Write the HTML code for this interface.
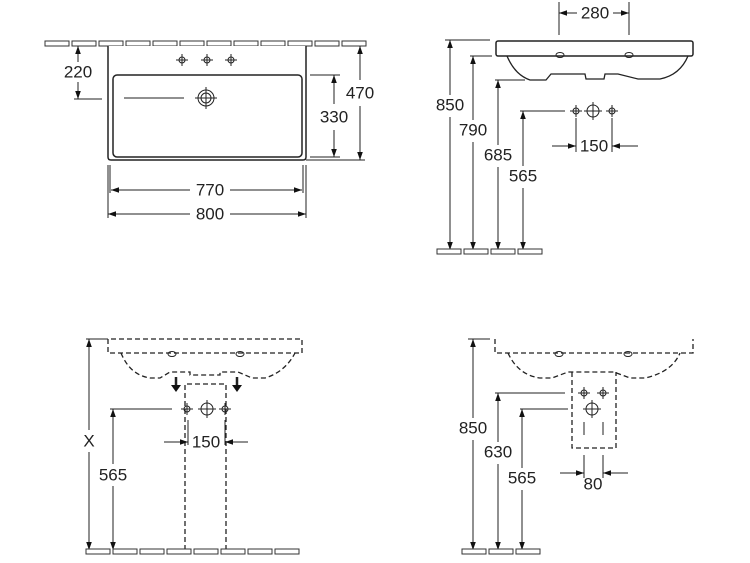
<!DOCTYPE html>
<html><head><style>html,body{margin:0;padding:0;background:#fff}svg{display:block}text{font-family:"Liberation Sans",sans-serif;font-size:17px;fill:#222;text-anchor:middle;dominant-baseline:central}</style></head><body>
<svg width="750" height="563" viewBox="0 0 750 563" xmlns="http://www.w3.org/2000/svg">
<defs>
<marker id="a" viewBox="0 0 10 10" refX="10" refY="5" markerWidth="10" markerHeight="8" orient="auto" markerUnits="userSpaceOnUse"><path d="M0,1.5 L10,5 L0,8.5z" fill="#111"/></marker>
<g id="tile"><rect x="0" y="0" width="24" height="5" fill="#fff" stroke="#333" stroke-width="1"/></g>
</defs>
<g fill="none" stroke="#222" stroke-width="1">
<!-- VIEW 1 tiles -->
<g id="w1">
<use href="#tile" x="45" y="41"/><use href="#tile" x="72" y="41"/><use href="#tile" x="99" y="41"/><use href="#tile" x="126" y="41"/><use href="#tile" x="153" y="41"/><use href="#tile" x="180" y="41"/><use href="#tile" x="207" y="41"/><use href="#tile" x="234" y="41"/><use href="#tile" x="261" y="41"/><use href="#tile" x="288" y="41"/><use href="#tile" x="315" y="41"/><use href="#tile" x="342" y="41"/>
</g>
<path d="M108,46 V157 Q108,160 111,160 H303 Q306,160 306,157 V46" stroke-width="1.5" fill="#fff"/>
<rect x="113" y="75" width="189" height="82" rx="4" stroke-width="1.5"/>
<g id="tap"><circle cx="182" cy="60" r="3"/><path d="M176,60h12M182,54v12"/></g>
<use href="#tap" x="25"/><use href="#tap" x="49"/>
<circle cx="206" cy="98" r="8"/><circle cx="206" cy="98" r="5"/><path d="M195,98h22M206,87v22"/>
<path d="M124,98H184"/>
<path d="M74,99H102"/>
<path d="M78,62V46" marker-end="url(#a)"/><path d="M78,82V99" marker-end="url(#a)"/>
<path d="M310,75H340M310,157H340M306,160H365"/>
<path d="M334,104V75" marker-end="url(#a)"/><path d="M334,130V157" marker-end="url(#a)"/>
<path d="M360,80V46" marker-end="url(#a)"/><path d="M360,106V160" marker-end="url(#a)"/>
<path d="M110,165V193M303,165V193M108,165V218M306,165V218"/>
<path d="M190,190H111" marker-end="url(#a)"/><path d="M230,190H302" marker-end="url(#a)"/>
<path d="M190,214H108" marker-end="url(#a)"/><path d="M230,214H306" marker-end="url(#a)"/>
<!-- VIEW 2 -->
<path d="M559,2V35M629,2V35"/>
<path d="M577,13H559" marker-end="url(#a)"/><path d="M613,13H629" marker-end="url(#a)"/>
<rect x="496" y="41" width="197" height="15" rx="2" stroke-width="1.5"/>
<path d="M507,56 Q515,75 530,80 H546 L551,74 H585 L586,79 H604 L605,74 H618 L638,79 H660 Q680,75 688,56" stroke-width="1.3"/>
<ellipse cx="560" cy="55" rx="4" ry="2.5"/><ellipse cx="629" cy="55" rx="4" ry="2.5"/>
<path d="M445,40H490M470,56H492M495,80H525M520,111H565"/>
<path d="M450,95V40" marker-end="url(#a)"/><path d="M450,117V250" marker-end="url(#a)"/>
<path d="M473,120V56" marker-end="url(#a)"/><path d="M473,142V250" marker-end="url(#a)"/>
<path d="M498,145V80" marker-end="url(#a)"/><path d="M498,167V250" marker-end="url(#a)"/>
<path d="M523,166V111" marker-end="url(#a)"/><path d="M523,188V250" marker-end="url(#a)"/>
<circle cx="576" cy="111" r="3"/><path d="M570,111h12M576,105v12"/>
<circle cx="612" cy="111" r="3"/><path d="M606,111h12M612,105v12"/>
<circle cx="593" cy="111" r="6"/><path d="M584,111h18M593,102v18"/>
<path d="M576,118V152M612,118V152"/>
<path d="M552,146H576" marker-end="url(#a)"/><path d="M638,146H612" marker-end="url(#a)"/>
<use href="#tile" x="437" y="249"/><use href="#tile" x="464" y="249"/><use href="#tile" x="491" y="249"/><use href="#tile" x="518" y="249"/>
<!-- VIEW 3 -->
<path d="M86,339H108" />
<g stroke-dasharray="5,3" stroke-width="1.3">
<path d="M108,339 V353 H302 V339 Z"/>
<path d="M121,353 Q130,375 150,378 H160 L170,372 H190 V375 H220 V372 H238 L252,378 H265 Q285,372 295,353"/>
<path d="M185,550 V384 H226 V550"/>
</g>
<ellipse cx="172" cy="354" rx="4" ry="2.5"/><ellipse cx="240" cy="354" rx="4" ry="2.5"/>
<path d="M176,377V386" stroke-width="2.5"/><path d="M237,377V386" stroke-width="2.5"/>
<path d="M171,385h10l-5,7z M232,385h10l-5,7z" fill="#111" stroke="none"/>
<circle cx="187" cy="409" r="3"/><path d="M181,409h12M187,403v12"/>
<circle cx="225" cy="409" r="3"/><path d="M219,409h12M225,403v12"/>
<circle cx="207" cy="409" r="6"/><path d="M198,409h18M207,400v18"/>
<path d="M110,409H172M188,420V445M225,420V445"/>
<path d="M164,442H188" marker-end="url(#a)"/><path d="M248,442H225" marker-end="url(#a)"/>
<path d="M89,430V339" marker-end="url(#a)"/><path d="M89,452V550" marker-end="url(#a)"/>
<path d="M113,464V409" marker-end="url(#a)"/><path d="M113,486V550" marker-end="url(#a)"/>
<use href="#tile" x="86" y="549"/><use href="#tile" x="113" y="549"/><use href="#tile" x="140" y="549"/><use href="#tile" x="167" y="549"/><use href="#tile" x="194" y="549"/><use href="#tile" x="221" y="549"/><use href="#tile" x="248" y="549"/><use href="#tile" x="275" y="549"/>
<!-- VIEW 4 -->
<path d="M468,339H490"/>
<g stroke-dasharray="5,3" stroke-width="1.3">
<path d="M495,339 V353 H693 V339"/>
<path d="M508,353 Q518,375 540,378 H552 L568,372 H614 L630,378 H645 Q672,372 680,353"/>
<path d="M572,372 V448 H616 V372"/>
</g>
<ellipse cx="559" cy="354" rx="4" ry="2.5"/><ellipse cx="628" cy="354" rx="4" ry="2.5"/>
<circle cx="584" cy="393" r="3"/><path d="M578,393h12M584,387v12"/>
<circle cx="603" cy="393" r="3"/><path d="M597,393h12M603,387v12"/>
<circle cx="592" cy="409" r="6"/><path d="M583,409h18M592,400v18"/>
<path d="M584,422V435M603,422V435M584,455V478M603,455V478"/>
<path d="M495,393H565M520,409H568"/>
<path d="M560,473H584" marker-end="url(#a)"/><path d="M628,473H603" marker-end="url(#a)"/>
<path d="M473,418V339" marker-end="url(#a)"/><path d="M473,440V550" marker-end="url(#a)"/>
<path d="M498,442V393" marker-end="url(#a)"/><path d="M498,464V550" marker-end="url(#a)"/>
<path d="M522,468V409" marker-end="url(#a)"/><path d="M522,490V550" marker-end="url(#a)"/>
<use href="#tile" x="462" y="549"/><use href="#tile" x="489" y="549"/><use href="#tile" x="516" y="549"/>
</g>
<g>
<text x="78" y="72">220</text><text x="334" y="117">330</text><text x="360" y="93">470</text>
<text x="210" y="190">770</text><text x="210" y="214">800</text>
<text x="595" y="13">280</text><text x="450" y="105">850</text><text x="473" y="130">790</text>
<text x="498" y="155">685</text><text x="523" y="176">565</text><text x="594" y="146">150</text>
<text x="89" y="441">X</text><text x="113" y="475">565</text><text x="206" y="442">150</text>
<text x="473" y="428">850</text><text x="498" y="452">630</text><text x="522" y="478">565</text><text x="593" y="484">80</text>
</g>
</svg>
</body></html>
